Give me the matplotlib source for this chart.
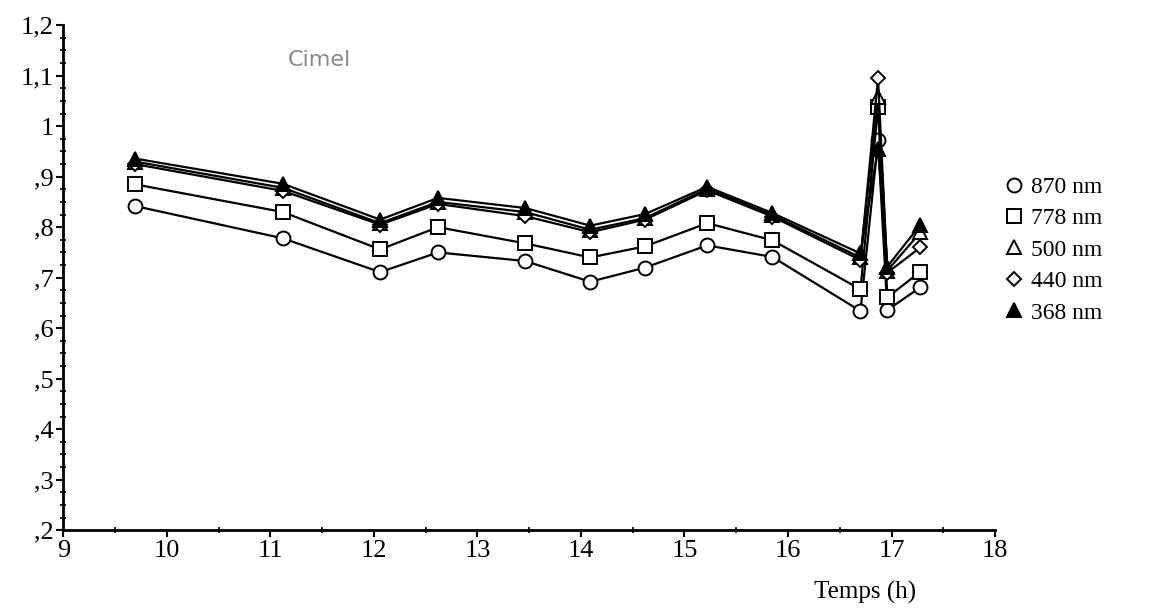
import matplotlib.pyplot as plt
from matplotlib.ticker import MultipleLocator

# temps (h) and values
temps = [9.69, 11.12, 12.06, 12.62, 13.46, 14.09, 14.62, 15.22, 15.85, 16.70, 16.87, 16.96, 17.28]

nm870 = [0.842, 0.778, 0.711, 0.750, 0.733, 0.692, 0.720, 0.764, 0.741, 0.634, 0.972, 0.636, 0.681]
nm778 = [0.885, 0.830, 0.756, 0.800, 0.768, 0.740, 0.762, 0.808, 0.774, 0.677, 1.038, 0.661, 0.712]
nm500 = [0.930, 0.878, 0.808, 0.850, 0.830, 0.795, 0.818, 0.876, 0.824, 0.740, 1.058, 0.714, 0.790]
nm440 = [0.925, 0.872, 0.805, 0.846, 0.822, 0.790, 0.815, 0.873, 0.821, 0.735, 1.095, 0.710, 0.760]
nm368 = [0.936, 0.886, 0.815, 0.858, 0.838, 0.803, 0.826, 0.880, 0.828, 0.748, 0.955, 0.722, 0.805]

y_ticks = [0.2, 0.3, 0.4, 0.5, 0.6, 0.7, 0.8, 0.9, 1.0, 1.1, 1.2]
y_ticklabels = [',2', ',3', ',4', ',5', ',6', ',7', ',8', ',9', '1', '1,1', '1,2']
x_ticks = [9, 10, 11, 12, 13, 14, 15, 16, 17, 18]

serif = 'Liberation Serif'

fig = plt.figure(figsize=(11.72, 6.15), dpi=100)
ax = fig.add_axes([0.054, 0.138, 0.795, 0.821])

series = [
    (nm870, 'o', 'white', '870 nm'),
    (nm778, 's', 'white', '778 nm'),
    (nm500, '^', 'white', '500 nm'),
    (nm440, 'D', 'white', '440 nm'),
    (nm368, '^', 'black', '368 nm'),
]
for vals, m, fc, lab in series:
    ax.plot(temps, vals, color='black', lw=1.6, marker=m,
            markersize=10 if m != 'D' else 7.5, markerfacecolor=fc,
            markeredgecolor='black', markeredgewidth=1.4, label=lab)

ax.set_xlim(9, 18)
ax.set_ylim(0.2, 1.2)
ax.set_xticks(x_ticks)
ax.set_yticks(y_ticks)
ax.set_yticklabels(y_ticklabels)
ax.xaxis.set_minor_locator(MultipleLocator(0.5))
ax.yaxis.set_minor_locator(MultipleLocator(0.025))

for s in ['top', 'right']:
    ax.spines[s].set_visible(False)
for s in ['left', 'bottom']:
    ax.spines[s].set_linewidth(2)

ax.tick_params(which='major', direction='out', length=5, width=1.5, pad=2)
ax.tick_params(which='minor', direction='inout', length=4, width=1.2)
for lbl in ax.get_xticklabels() + ax.get_yticklabels():
    lbl.set_fontfamily(serif)
    lbl.set_fontsize(19)

ax.text(0.275, 0.92, 'Cimel', transform=ax.transAxes, fontsize=16,
        color='#8a8a8a', family='DejaVu Sans', ha='center')

ax.set_xlabel('Temps (h)', fontsize=18, family=serif)
ax.xaxis.set_label_coords(0.86, -0.1)

leg = ax.legend(loc='center left', bbox_to_anchor=(0.99, 0.555), frameon=False,
                prop={'family': serif, 'size': 17}, handlelength=0.6,
                handletextpad=0.4, labelspacing=0.42)
for h in leg.legend_handles:
    h.set_linestyle('None')

plt.savefig('out.png', dpi=100)
